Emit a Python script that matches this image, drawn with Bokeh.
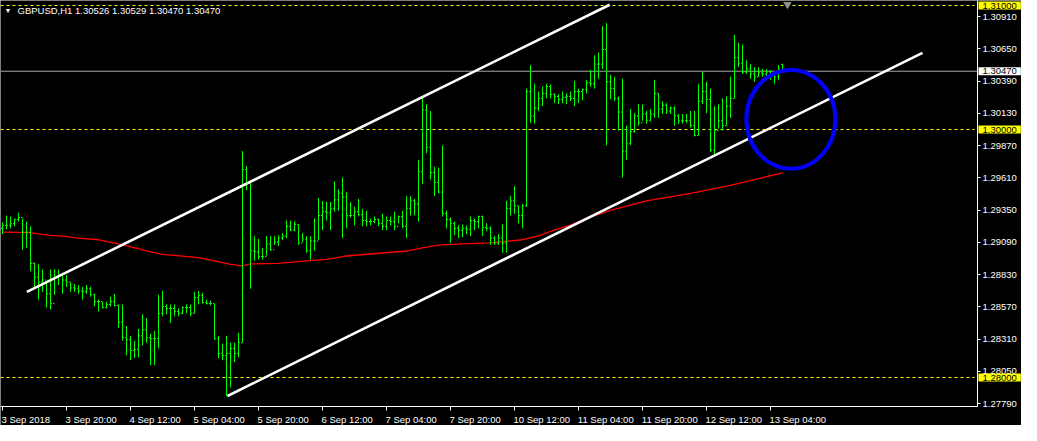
from bokeh.plotting import figure
from bokeh.models import (Range1d, LinearAxis, FixedTicker, Label,
                          ColumnDataSource, CustomJSTickFormatter, PrintfTickFormatter)
from bokeh.embed import file_html
from bokeh.resources import INLINE

# ---------------- data (GBPUSD, H1) ----------------
opens = [
    1.29203, 1.29227, 1.29227, 1.29243, 1.29274, 1.29290, 1.29172, 1.29172, 1.28920, 1.28809,
    1.28770, 1.28786, 1.28675, 1.28596, 1.28809, 1.28825, 1.28786, 1.28770, 1.28723, 1.28715,
    1.28699, 1.28691, 1.28715, 1.28667, 1.28612, 1.28612, 1.28565, 1.28589, 1.28612, 1.28581,
    1.28447, 1.28321, 1.28305, 1.28218, 1.28226, 1.28336, 1.28384, 1.28321, 1.28313, 1.28313,
    1.28518, 1.28573, 1.28557, 1.28557, 1.28533, 1.28518, 1.28565, 1.28565, 1.28518, 1.28644,
    1.28660, 1.28604, 1.28596, 1.28596, 1.28313, 1.28195, 1.28179, 1.28195, 1.28234, 1.28195,
    1.28281, 1.29676, 1.29566, 1.29022, 1.29014, 1.28975, 1.28975, 1.29077, 1.29030, 1.29093,
    1.29124, 1.29140, 1.29219, 1.29188, 1.29235, 1.29085, 1.29117, 1.29022, 1.29101, 1.29101,
    1.29306, 1.29337, 1.29329, 1.29361, 1.29432, 1.29487, 1.29455, 1.29306, 1.29306, 1.29337,
    1.29314, 1.29266, 1.29258, 1.29258, 1.29274, 1.29243, 1.29219, 1.29266, 1.29258, 1.29219,
    1.29298, 1.29219, 1.29361, 1.29424, 1.29400, 1.29660, 1.30157, 1.29857, 1.29652, 1.29574,
    1.29495, 1.29321, 1.29274, 1.29243, 1.29203, 1.29188, 1.29203, 1.29195, 1.29266, 1.29258,
    1.29298, 1.29211, 1.29203, 1.29124, 1.29085, 1.29124, 1.29085, 1.29361, 1.29424, 1.29384,
    1.29306, 1.29384, 1.30306, 1.30109, 1.30172, 1.30251, 1.30291, 1.30346, 1.30283, 1.30267,
    1.30243, 1.30259, 1.30267, 1.30251, 1.30306, 1.30306, 1.30322, 1.30377, 1.30369, 1.30527,
    1.30527, 1.30645, 1.30385, 1.30330, 1.30251, 1.30141, 1.29826, 1.29889, 1.29983, 1.30109,
    1.30054, 1.30125, 1.30070, 1.30125, 1.30291, 1.30165, 1.30196, 1.30149, 1.30172, 1.30109,
    1.30070, 1.30070, 1.30070, 1.30031, 1.29952, 1.30228, 1.30306, 1.30243, 1.29834, 1.29991,
    1.30070, 1.30031, 1.30188, 1.30251, 1.30582, 1.30535, 1.30464, 1.30488, 1.30448, 1.30425,
    1.30456, 1.30448, 1.30464, 1.30440, 1.30425, 1.30526,
]
highs = [
    1.29251, 1.29306, 1.29298, 1.29282, 1.29329, 1.29282, 1.29258, 1.29219, 1.28927, 1.28912,
    1.28872, 1.28762, 1.28872, 1.28872, 1.28872, 1.28833, 1.28825, 1.28770, 1.28754, 1.28746,
    1.28730, 1.28746, 1.28730, 1.28675, 1.28628, 1.28612, 1.28612, 1.28652, 1.28675, 1.28589,
    1.28589, 1.28415, 1.28336, 1.28297, 1.28392, 1.28510, 1.28478, 1.28352, 1.28376, 1.28667,
    1.28699, 1.28589, 1.28589, 1.28589, 1.28557, 1.28573, 1.28589, 1.28589, 1.28691, 1.28699,
    1.28683, 1.28628, 1.28620, 1.28596, 1.28336, 1.28273, 1.28336, 1.28281, 1.28281, 1.28360,
    1.29826, 1.29708, 1.29581, 1.29140, 1.29117, 1.29046, 1.29140, 1.29140, 1.29140, 1.29148,
    1.29164, 1.29266, 1.29266, 1.29258, 1.29235, 1.29164, 1.29140, 1.29140, 1.29282, 1.29448,
    1.29424, 1.29416, 1.29416, 1.29581, 1.29518, 1.29613, 1.29495, 1.29416, 1.29377, 1.29440,
    1.29361, 1.29345, 1.29282, 1.29298, 1.29282, 1.29321, 1.29298, 1.29298, 1.29337, 1.29306,
    1.29345, 1.29463, 1.29463, 1.29440, 1.29755, 1.30267, 1.30204, 1.30149, 1.29700, 1.29692,
    1.29873, 1.29345, 1.29290, 1.29258, 1.29227, 1.29235, 1.29227, 1.29298, 1.29282, 1.29306,
    1.29306, 1.29243, 1.29219, 1.29140, 1.29156, 1.29235, 1.29424, 1.29463, 1.29542, 1.29384,
    1.29400, 1.30330, 1.30519, 1.30369, 1.30306, 1.30346, 1.30369, 1.30362, 1.30291, 1.30283,
    1.30306, 1.30291, 1.30306, 1.30393, 1.30330, 1.30330, 1.30401, 1.30480, 1.30598, 1.30622,
    1.30834, 1.30858, 1.30440, 1.30425, 1.30267, 1.30409, 1.30031, 1.30165, 1.30133, 1.30204,
    1.30204, 1.30149, 1.30165, 1.30401, 1.30291, 1.30228, 1.30212, 1.30188, 1.30188, 1.30125,
    1.30125, 1.30125, 1.30149, 1.30149, 1.30369, 1.30464, 1.30385, 1.30330, 1.30188, 1.30204,
    1.30251, 1.30267, 1.30425, 1.30763, 1.30700, 1.30685, 1.30559, 1.30527, 1.30503, 1.30503,
    1.30488, 1.30488, 1.30480, 1.30464, 1.30519, 1.30529,
]
lows = [
    1.29156, 1.29195, 1.29203, 1.29219, 1.29258, 1.29030, 1.29046, 1.28857, 1.28715, 1.28628,
    1.28691, 1.28565, 1.28549, 1.28667, 1.28746, 1.28675, 1.28730, 1.28691, 1.28691, 1.28675,
    1.28628, 1.28675, 1.28652, 1.28573, 1.28533, 1.28557, 1.28557, 1.28573, 1.28573, 1.28399,
    1.28297, 1.28179, 1.28139, 1.28155, 1.28163, 1.28258, 1.28281, 1.28100, 1.28100, 1.28234,
    1.28494, 1.28510, 1.28439, 1.28494, 1.28494, 1.28510, 1.28518, 1.28494, 1.28518, 1.28589,
    1.28596, 1.28589, 1.28581, 1.28305, 1.28155, 1.28139, 1.27848, 1.27919, 1.28124, 1.28163,
    1.28281, 1.29511, 1.28715, 1.28943, 1.28951, 1.28951, 1.28983, 1.29022, 1.29069, 1.29061,
    1.29109, 1.29124, 1.29180, 1.29180, 1.29069, 1.29093, 1.29006, 1.28951, 1.29022, 1.29109,
    1.29188, 1.29266, 1.29188, 1.29337, 1.29345, 1.29124, 1.29203, 1.29290, 1.29227, 1.29298,
    1.29219, 1.29219, 1.29227, 1.29243, 1.29219, 1.29188, 1.29188, 1.29227, 1.29188, 1.29243,
    1.29203, 1.29124, 1.29306, 1.29306, 1.29258, 1.29558, 1.29810, 1.29597, 1.29463, 1.29487,
    1.29298, 1.29203, 1.29085, 1.29148, 1.29124, 1.29132, 1.29156, 1.29140, 1.29188, 1.29203,
    1.29140, 1.29180, 1.29069, 1.29069, 1.29069, 1.29006, 1.29006, 1.29306, 1.29321, 1.29243,
    1.29203, 1.29377, 1.30054, 1.30046, 1.30149, 1.30188, 1.30251, 1.30251, 1.30212, 1.30204,
    1.30212, 1.30204, 1.30228, 1.30188, 1.30212, 1.30236, 1.30291, 1.30346, 1.30330, 1.30409,
    1.30488, 1.29873, 1.30243, 1.30228, 1.29991, 1.29613, 1.29755, 1.29873, 1.29975, 1.30031,
    1.30070, 1.30046, 1.30070, 1.30094, 1.30094, 1.30125, 1.30125, 1.30125, 1.30031, 1.30046,
    1.30046, 1.30054, 1.30015, 1.29944, 1.29952, 1.30204, 1.30133, 1.29818, 1.29794, 1.30007,
    1.29991, 1.30031, 1.30094, 1.30251, 1.30503, 1.30448, 1.30448, 1.30409, 1.30385, 1.30425,
    1.30425, 1.30425, 1.30401, 1.30369, 1.30401, 1.30470,
]
closes = [
    1.29227, 1.29227, 1.29243, 1.29274, 1.29290, 1.29172, 1.29172, 1.28920, 1.28809, 1.28770,
    1.28786, 1.28675, 1.28596, 1.28809, 1.28825, 1.28786, 1.28770, 1.28723, 1.28715, 1.28699,
    1.28691, 1.28715, 1.28667, 1.28612, 1.28612, 1.28565, 1.28589, 1.28612, 1.28581, 1.28447,
    1.28321, 1.28305, 1.28218, 1.28226, 1.28336, 1.28384, 1.28321, 1.28313, 1.28313, 1.28518,
    1.28573, 1.28557, 1.28557, 1.28533, 1.28518, 1.28565, 1.28565, 1.28518, 1.28644, 1.28660,
    1.28604, 1.28596, 1.28596, 1.28313, 1.28195, 1.28179, 1.28195, 1.28234, 1.28195, 1.28281,
    1.29676, 1.29566, 1.29022, 1.29014, 1.28975, 1.28975, 1.29077, 1.29030, 1.29093, 1.29124,
    1.29140, 1.29219, 1.29188, 1.29235, 1.29085, 1.29117, 1.29022, 1.29101, 1.29101, 1.29306,
    1.29337, 1.29329, 1.29361, 1.29432, 1.29487, 1.29455, 1.29306, 1.29306, 1.29337, 1.29314,
    1.29266, 1.29258, 1.29258, 1.29274, 1.29243, 1.29219, 1.29266, 1.29258, 1.29219, 1.29298,
    1.29219, 1.29361, 1.29424, 1.29400, 1.29660, 1.30157, 1.29857, 1.29652, 1.29574, 1.29495,
    1.29321, 1.29274, 1.29243, 1.29203, 1.29188, 1.29203, 1.29195, 1.29266, 1.29258, 1.29298,
    1.29211, 1.29203, 1.29124, 1.29085, 1.29124, 1.29085, 1.29361, 1.29424, 1.29384, 1.29306,
    1.29384, 1.30306, 1.30109, 1.30172, 1.30251, 1.30291, 1.30346, 1.30283, 1.30267, 1.30243,
    1.30259, 1.30267, 1.30251, 1.30306, 1.30306, 1.30322, 1.30377, 1.30369, 1.30527, 1.30527,
    1.30645, 1.30385, 1.30330, 1.30251, 1.30141, 1.29826, 1.29889, 1.29983, 1.30109, 1.30054,
    1.30125, 1.30070, 1.30125, 1.30291, 1.30165, 1.30196, 1.30149, 1.30172, 1.30109, 1.30070,
    1.30070, 1.30070, 1.30031, 1.29952, 1.30228, 1.30306, 1.30243, 1.29834, 1.29991, 1.30070,
    1.30031, 1.30188, 1.30251, 1.30582, 1.30535, 1.30464, 1.30488, 1.30448, 1.30425, 1.30456,
    1.30448, 1.30464, 1.30440, 1.30425, 1.30488, 1.30470,
]

# moving average (red), read at selected bars
ma_bar = [0, 7, 9, 12, 15, 19, 24, 26, 30, 36, 40, 49, 53, 57, 60, 62, 69, 76, 81, 86,
          92, 101, 105, 109, 115, 122, 130, 134, 138, 142, 147, 152, 161, 172, 182, 195]
ma_val = [1.29172, 1.29169, 1.29158, 1.29146, 1.29140, 1.29124, 1.29111, 1.29095, 1.29072,
          1.29022, 1.28993, 1.28967, 1.28941, 1.28912, 1.28901, 1.28916, 1.28920, 1.28941,
          1.28953, 1.28980, 1.28996, 1.29020, 1.29046, 1.29067, 1.29077, 1.29085, 1.29111,
          1.29143, 1.29190, 1.29229, 1.29295, 1.29347, 1.29424, 1.29485, 1.29550, 1.29650]

# channel lines (bar index, price)
upper_bar = [6.1, 151.8]
upper_val = [1.28691, 1.31006]
lower_bar = [56.25, 230.0]
lower_val = [1.27851, 1.30618]

# blue ellipse marking
circle_bar, circle_val, circle_w, circle_h = 197.1, 1.30082, 22.25, 0.00796

# horizontal levels
yellow_levels = [1.31000, 1.30000, 1.28000]
bid_level = 1.30470

# axis ticks
x_tick_bars = [0, 16, 32, 48, 64, 80, 96, 112, 128, 144, 160, 176, 192]
x_tick_labels = ["3 Sep 2018", "3 Sep 20:00", "4 Sep 12:00", "5 Sep 04:00", "5 Sep 20:00",
                 "6 Sep 12:00", "7 Sep 04:00", "7 Sep 20:00", "10 Sep 12:00", "11 Sep 04:00",
                 "11 Sep 20:00", "12 Sep 12:00", "13 Sep 04:00"]
y_ticks = [1.27790, 1.28050, 1.28310, 1.28570, 1.28830, 1.29090, 1.29350, 1.29610,
           1.29870, 1.30130, 1.30390, 1.30650, 1.30910]

title_text = "GBPUSD,H1  1.30526 1.30529 1.30470 1.30470"

# ---------------- layout ----------------
W, H = 1021, 425
CW, CH = 977, 406            # chart area (px) inside the frame
XPX = 0.25                   # 4 px per bar, as in the terminal
X0 = -0.5
XAX = X0 + CW * XPX          # right price scale position (bar index)
YPX = 0.01 / 124             # price per pixel (round levels land on whole pixels)
Y1 = 1.31 + 5 * YPX          # top edge (price)
YAX = Y1 - CH * YPX          # bottom scale position (price)

FONT = "Liberation Sans"
FSZ = 9.5
FS = f"{FSZ}px"

# approximate text widths (Arial metrics) to left-align the date labels at their ticks
_cw = {" ": 0.278, ":": 0.278, "S": 0.667, "e": 0.556, "p": 0.556}
def text_w(s):
    return sum(_cw.get(ch, 0.556) for ch in s) * FSZ

x_label_pos = [b + (text_w(t) / 2 - 1) * XPX for b, t in zip(x_tick_bars, x_tick_labels)]

p = figure(width=W, height=H, output_backend="svg", toolbar_location=None,
           x_range=Range1d(X0, X0 + W * XPX), y_range=Range1d(Y1 - H * YPX, Y1),
           x_axis_location=None, y_axis_location=None,
           background_fill_color="black", border_fill_color="black",
           min_border_left=0, min_border_top=0, min_border_right=0, min_border_bottom=0)
p.outline_line_color = None
p.grid.visible = False

# right price scale
yax = LinearAxis(fixed_location=XAX, bounds=(YAX, Y1),
                 ticker=FixedTicker(ticks=y_ticks), formatter=PrintfTickFormatter(format="%.5f"),
                 axis_line_color="white", major_tick_line_color="white",
                 major_tick_out=3, major_tick_in=0, minor_tick_line_color=None,
                 major_label_text_color="white", major_label_text_font=FONT,
                 major_label_text_font_size=FS, major_label_standoff=2)
p.add_layout(yax, "right")

# bottom time scale: minor ticks mark the bars, labels sit to the right of them
xax = LinearAxis(fixed_location=YAX, bounds=(X0, XAX),
                 ticker=FixedTicker(ticks=x_label_pos, minor_ticks=x_tick_bars),
                 formatter=CustomJSTickFormatter(args=dict(labels=x_tick_labels),
                                                 code="return labels[index]"),
                 axis_line_color="white", major_tick_line_color=None,
                 major_tick_out=0, major_tick_in=0,
                 minor_tick_line_color="white", minor_tick_out=4, minor_tick_in=0,
                 major_label_text_color="white", major_label_text_font=FONT,
                 major_label_text_font_size=FS, major_label_standoff=3)
p.add_layout(xax, "below")

# horizontal levels (stop at the price scale)
p.segment(x0=[X0] * 3, y0=yellow_levels, x1=[XAX - 3 * XPX] * 3, y1=yellow_levels,
          line_color="#ffff00", line_dash="3 3", line_width=1)
p.segment(x0=[X0], y0=[bid_level], x1=[XAX], y1=[bid_level], line_color="#a8a8a8", line_width=1)

# moving average
p.line(ma_bar, ma_val, line_color="#ff0000", line_width=1.3)

# OHLC bars
idx = list(range(len(closes)))
dx = 1.5 * XPX
src = ColumnDataSource(dict(x=idx, o=opens, h=highs, l=lows, c=closes,
                            xl=[i - dx for i in idx], xr=[i + dx for i in idx]))
p.segment(x0="x", y0="l", x1="x", y1="h", source=src, line_color="#00ff00", line_width=1)
p.segment(x0="xl", y0="o", x1="x", y1="o", source=src, line_color="#00ff00", line_width=1)
p.segment(x0="x", y0="c", x1="xr", y1="c", source=src, line_color="#00ff00", line_width=1)

# channel lines
p.line(upper_bar, upper_val, line_color="white", line_width=2.6)
p.line(lower_bar, lower_val, line_color="white", line_width=2.6)

# ellipse
p.ellipse(x=[circle_bar], y=[circle_val], width=[circle_w], height=[circle_h],
          fill_color=None, line_color="#0000ff", line_width=4)

# chart shift marker
p.scatter(x=[X0 + 787 * XPX], y=[Y1 - 4 * YPX], marker="inverted_triangle", size=7,
          fill_color="#909090", line_color="#909090")

# highlighted price labels on the right scale
for lv, bg in [(1.31000, "#ffff00"), (1.30000, "#ffff00"), (1.28000, "#ffff00"), (bid_level, "white")]:
    p.add_layout(Label(x=XAX + 1 * XPX, y=lv, text=f"{lv:.5f}", text_align="left",
                       text_baseline="middle", text_color="black", text_font=FONT,
                       text_font_size=FS, background_fill_color=bg,
                       padding=dict(left=4, right=4, top=1, bottom=1)))

# title
p.add_layout(Label(x=X0 + 4 * XPX, y=Y1 - 10 * YPX, text="\u25bc", text_align="left",
                   text_baseline="middle", text_color="white", text_font_size="7px"))
p.add_layout(Label(x=X0 + 17 * XPX, y=Y1 - 10 * YPX, text=title_text, text_align="left",
                   text_baseline="middle", text_color="white", text_font=FONT,
                   text_font_size=FS))

open("out.html", "w").write(file_html(p, INLINE))
